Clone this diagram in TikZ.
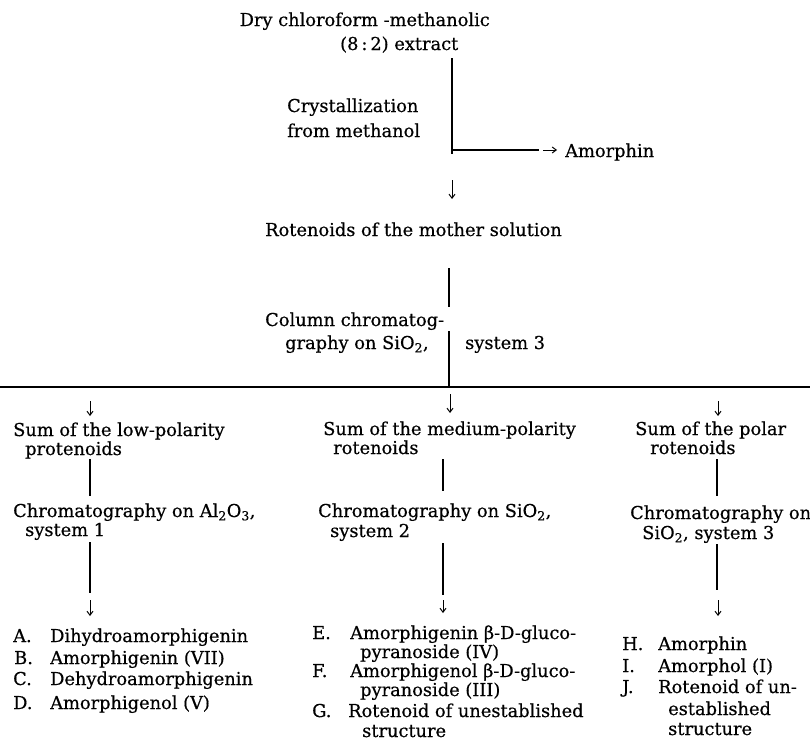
\documentclass[tikz,border=0pt]{standalone}
\usepackage{fontspec}
\setmainfont{DejaVu Serif}[FakeBold=0.5]
\usetikzlibrary{arrows.meta}
\begin{document}
\begin{tikzpicture}[x=1pt,y=-1pt,
  txt/.style={inner sep=0pt, anchor=base west, font=\fontsize{17.8}{17}\selectfont},
  ln/.style={line width=1.5pt},
  arr/.style={line width=1pt, -{Straight Barb[length=4pt,width=6pt]}}]
\useasboundingbox (0,0) rectangle (810,742);
% top
\node[txt, anchor=base east] (t1) at (490,26) {Dry chloroform -methanolic};
\node[txt] (t2) at (340,50) {(8\,:\,2) extract};
\node[txt] (cr1) at (287,112) {Crystallization};
\node[txt] (cr2) at (287,137) {from methanol};
\node[txt] (amo) at (565,157) {Amorphin};
\node[txt] (rot) at (265,236) {Rotenoids of the mother solution};
\node[txt] (col1) at (265,326) {Column chromatog-};
\node[txt] (col2) at (285,349) {graphy on SiO\textsubscript{2},};
\node[txt] (sys3) at (465,349) {system 3};
% left column
\node[txt] (sl1) at (13,436) {Sum of the low-polarity};
\node[txt] (sl2) at (25,455) {protenoids};
\node[txt] (cl1) at (13,517) {Chromatography on Al\textsubscript{2}O\textsubscript{3},};
\node[txt] (cl2) at (25,536) {system 1};
\node[txt] (iA) at (13,642) {\makebox[37pt][l]{A.}Dihydroamorphigenin};
\node[txt] (iB) at (14,664) {\makebox[36pt][l]{B.}Amorphigenin (VII)};
\node[txt] (iC) at (13,685) {\makebox[37pt][l]{C.}Dehydroamorphigenin};
\node[txt] (iD) at (13,709) {\makebox[37pt][l]{D.}Amorphigenol (V)};
% middle column
\node[txt] (sm1) at (323,435) {Sum of the medium-polarity};
\node[txt] (sm2) at (333,454) {rotenoids};
\node[txt] (cm1) at (318,517) {Chromatography on SiO\textsubscript{2},};
\node[txt] (cm2) at (330,537) {system 2};
\node[txt] (iE) at (312,639) {\makebox[38pt][l]{E.}Amorphigenin β-D-gluco-};
\node[txt] (iE2) at (360,658) {pyranoside (IV)};
\node[txt] (iF) at (312,677) {\makebox[38pt][l]{F.}Amorphigenol β-D-gluco-};
\node[txt] (iF2) at (360,696) {pyranoside (III)};
\node[txt] (iG) at (312,717) {\makebox[36pt][l]{G.}Rotenoid of unestablished};
\node[txt] (iG2) at (362,737) {structure};
% right column
\node[txt] (sr1) at (635,435) {Sum of the polar};
\node[txt] (sr2) at (650,454) {rotenoids};
\node[txt] (cR1) at (630,519) {Chromatography on};
\node[txt] (cR2) at (642,539) {SiO\textsubscript{2}, system 3};
\node[txt] (iH) at (622,650) {\makebox[36pt][l]{H.}Amorphin};
\node[txt] (iI) at (622,672) {\makebox[36pt][l]{I.}Amorphol (I)};
\node[txt] (iJ) at (622,693) {\makebox[36pt][l]{J.}Rotenoid of un-};
\node[txt] (iJ2) at (668,715) {established};
\node[txt] (iJ3) at (668,735) {structure};
% coordinates
\coordinate (a1) at (452,58);
\coordinate (a2) at (452,154);
\coordinate (b1) at (453,150);
\coordinate (b2) at (539,150);
\coordinate (b3) at (543,150);
\coordinate (b4) at (557,150);
\coordinate (c1) at (452,180);
\coordinate (c2) at (452,199);
\coordinate (d1) at (449,268);
\coordinate (d2) at (449,307);
\coordinate (d3) at (449,331);
\coordinate (d4) at (449,387);
\coordinate (h1) at (0,387);
\coordinate (h2) at (810,387);
\coordinate (L0) at (90,401); \coordinate (L0b) at (90,416);
\coordinate (M0) at (450,394); \coordinate (M0b) at (450,413);
\coordinate (R0) at (718,401); \coordinate (R0b) at (718,416);
\coordinate (L1) at (90,459); \coordinate (L2) at (90,496);
\coordinate (L3) at (90,542); \coordinate (L4) at (90,593);
\coordinate (L5) at (90,600); \coordinate (L6) at (90,616);
\coordinate (M1) at (443,459); \coordinate (M2) at (443,491);
\coordinate (M3) at (443,543); \coordinate (M4) at (443,595);
\coordinate (M5) at (443,600); \coordinate (M6) at (443,613);
\coordinate (R1) at (717,459); \coordinate (R2) at (717,496);
\coordinate (R3) at (717,544); \coordinate (R4) at (717,590);
\coordinate (R5) at (718,600); \coordinate (R6) at (718,616);
% connectors
\draw[ln] (a1) -- (a2);
\draw[ln] (b1) -- (b2);
\draw[arr] (b3) -- (b4);
\draw[arr] (c1) -- (c2);
\draw[ln] (d1) -- (d2);
\draw[ln] (d3) -- (d4);
\draw[ln] (h1) -- (h2);
\draw[arr] (L0) -- (L0b);
\draw[arr] (M0) -- (M0b);
\draw[arr] (R0) -- (R0b);
\draw[ln] (L1) -- (L2);
\draw[ln] (L3) -- (L4);
\draw[arr] (L5) -- (L6);
\draw[ln] (M1) -- (M2);
\draw[ln] (M3) -- (M4);
\draw[arr] (M5) -- (M6);
\draw[ln] (R1) -- (R2);
\draw[ln] (R3) -- (R4);
\draw[arr] (R5) -- (R6);
\end{tikzpicture}
\end{document}
